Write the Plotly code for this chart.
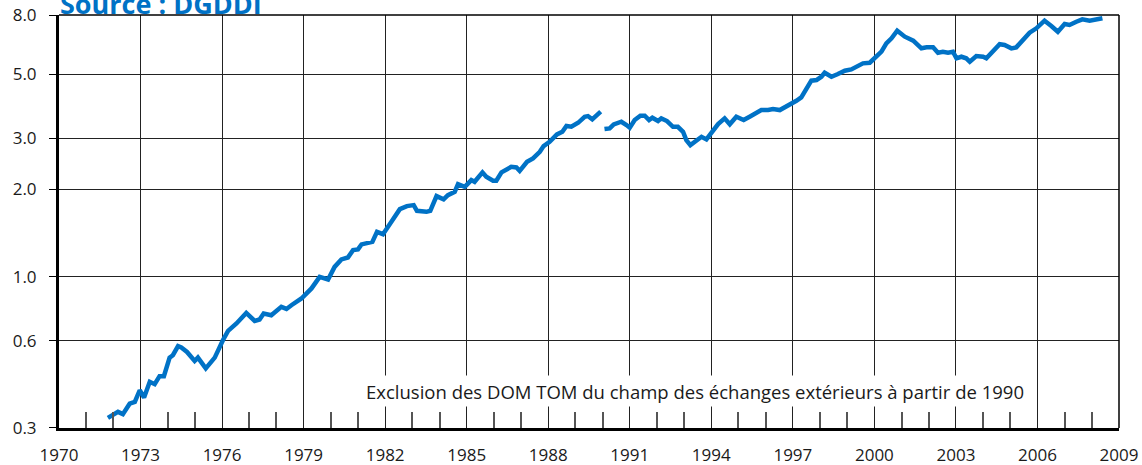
import plotly.graph_objects as go

# Series 1: 1972-1989 (incl. DOM TOM)
years_a = [1971.80, 1972.17, 1972.35, 1972.60, 1972.79, 1972.97, 1973.13, 1973.34, 1973.52, 1973.70,
           1973.86, 1974.07, 1974.19, 1974.38, 1974.50, 1974.71, 1974.99, 1975.11, 1975.40, 1975.73,
           1976.03, 1976.22, 1976.53, 1976.89, 1977.20, 1977.38, 1977.53, 1977.81, 1978.18, 1978.37,
           1978.55, 1978.92, 1979.29, 1979.59, 1979.90, 1980.14, 1980.39, 1980.63, 1980.82, 1981.00,
           1981.13, 1981.41, 1981.53, 1981.70, 1981.92, 1982.23, 1982.54, 1982.80, 1983.05, 1983.17,
           1983.52, 1983.66, 1983.89, 1984.15, 1984.31, 1984.56, 1984.68, 1984.93, 1985.17, 1985.29,
           1985.58, 1985.72, 1985.97, 1986.09, 1986.28, 1986.64, 1986.83, 1986.95, 1987.10, 1987.22,
           1987.44, 1987.69, 1987.83, 1988.05, 1988.32, 1988.52, 1988.67, 1988.85, 1989.10, 1989.34,
           1989.46, 1989.62, 1989.93]
values_a = [0.325, 0.341, 0.335, 0.364, 0.369, 0.405, 0.382, 0.433, 0.425, 0.453,
            0.453, 0.525, 0.535, 0.575, 0.569, 0.549, 0.511, 0.525, 0.482, 0.525,
            0.603, 0.649, 0.689, 0.749, 0.703, 0.711, 0.745, 0.735, 0.786, 0.773,
            0.796, 0.840, 0.910, 0.997, 0.977, 1.080, 1.146, 1.164, 1.234, 1.241,
            1.291, 1.318, 1.318, 1.427, 1.401, 1.545, 1.709, 1.751, 1.765, 1.687,
            1.673, 1.687, 1.896, 1.847, 1.911, 1.961, 2.085, 2.041, 2.153, 2.124,
            2.289, 2.210, 2.141, 2.141, 2.289, 2.393, 2.382, 2.318, 2.425, 2.490,
            2.559, 2.697, 2.822, 2.920, 3.097, 3.162, 3.309, 3.290, 3.396, 3.562,
            3.582, 3.489, 3.713]

# Series 2: 1990-2008 (excl. DOM TOM)
years_b = [1990.07, 1990.26, 1990.41, 1990.69, 1990.88, 1991.00, 1991.18, 1991.39, 1991.55, 1991.71,
           1991.83, 1992.04, 1992.16, 1992.37, 1992.59, 1992.77, 1992.96, 1993.08, 1993.23, 1993.45,
           1993.64, 1993.82, 1994.00, 1994.25, 1994.49, 1994.68, 1994.92, 1995.19, 1995.41, 1995.60,
           1995.84, 1996.09, 1996.27, 1996.52, 1996.76, 1997.01, 1997.13, 1997.31, 1997.50, 1997.68,
           1997.87, 1998.05, 1998.17, 1998.42, 1998.66, 1998.91, 1999.15, 1999.40, 1999.58, 1999.83,
           2000.07, 2000.26, 2000.44, 2000.63, 2000.84, 2001.12, 2001.43, 2001.73, 2001.92, 2002.16,
           2002.34, 2002.52, 2002.71, 2002.89, 2003.02, 2003.20, 2003.38, 2003.51, 2003.75, 2004.00,
           2004.12, 2004.36, 2004.61, 2004.79, 2005.04, 2005.22, 2005.46, 2005.71, 2005.96, 2006.26,
           2006.51, 2006.75, 2007.00, 2007.18, 2007.43, 2007.65, 2007.92, 2008.17, 2008.39]
values_b = [3.230, 3.248, 3.354, 3.424, 3.334, 3.264, 3.470, 3.592, 3.592, 3.470,
            3.534, 3.443, 3.517, 3.443, 3.290, 3.290, 3.162, 2.960, 2.844, 2.960,
            3.038, 2.976, 3.147, 3.361, 3.517, 3.354, 3.562, 3.470, 3.562, 3.631,
            3.757, 3.757, 3.787, 3.757, 3.857, 3.963, 4.046, 4.157, 4.466, 4.745,
            4.771, 4.898, 5.056, 4.898, 5.005, 5.135, 5.192, 5.333, 5.448, 5.474,
            5.715, 5.975, 6.389, 6.648, 7.062, 6.733, 6.522, 6.138, 6.187, 6.187,
            5.927, 5.975, 5.927, 5.975, 5.669, 5.741, 5.669, 5.518, 5.773, 5.741,
            5.669, 6.023, 6.339, 6.303, 6.138, 6.187, 6.522, 6.950, 7.198, 7.645,
            7.332, 7.005, 7.447, 7.389, 7.586, 7.731, 7.645, 7.688, 7.794]

x_ticks = list(range(1970, 2010, 3))
x_minor = [y for y in range(1971, 2009) if (y - 1970) % 3 != 0]
y_ticks = [0.3, 0.6, 1.0, 2.0, 3.0, 5.0, 8.0]
y_ticktext = ["0.3", "0.6", "1.0", "2.0", "3.0", "5.0", "8.0"]
title_text = "Source : DGDDI"
note_text = "Exclusion des DOM TOM du champ des échanges extérieurs à partir de 1990"

FONT = "'Open Sans', Lato, sans-serif"
BLUE = "#0072C6"
TXT = "#1a1a1a"

fig = go.Figure()
fig.add_trace(go.Scatter(
    x=years_a + [None] + years_b,
    y=values_a + [None] + values_b,
    mode="lines",
    line=dict(color=BLUE, width=4.5),
    connectgaps=False,
    hoverinfo="skip",
))

fig.update_layout(
    width=1142, height=465,
    margin=dict(l=59, r=23, t=15, b=37, autoexpand=False),
    paper_bgcolor="white", plot_bgcolor="white",
    showlegend=False,
    font=dict(family=FONT, size=16, color=TXT),
)

fig.update_xaxes(
    range=[1970, 2009], automargin=False,
    tickmode="linear", tick0=1970, dtick=3,
    ticks="inside", ticklen=16, tickcolor="#222222", tickwidth=1.2,
    showgrid=True, gridcolor="#222222", gridwidth=1.2,
    showline=True, linecolor="black", linewidth=3,
    minor=dict(tickmode="array", tickvals=x_minor, ticks="inside", ticklen=16,
               tickcolor="#555555", tickwidth=1.5, showgrid=False),
    tickfont=dict(family=FONT, size=17, color=TXT),
    ticklabelstandoff=10,
    zeroline=False,
)

fig.update_yaxes(
    type="log", automargin=False,
    range=[-0.5229, 0.9031],
    tickmode="array", tickvals=y_ticks, ticktext=y_ticktext,
    ticks="outside", ticklen=7, tickcolor="black", tickwidth=1.2,
    showgrid=True, gridcolor="#222222", gridwidth=1.2,
    showline=True, linecolor="black", linewidth=3,
    tickfont=dict(family=FONT, size=17, color=TXT),
    ticklabelstandoff=9,
    zeroline=False,
)

# thin frame on top and right
fig.add_shape(type="line", xref="paper", yref="paper", x0=0, x1=1, y0=1, y1=1,
              line=dict(color="black", width=1.5))
fig.add_shape(type="line", xref="paper", yref="paper", x0=1, x1=1, y0=0, y1=1,
              line=dict(color="black", width=1.5))

fig.add_annotation(
    text=note_text, xref="paper", yref="paper", x=0.6, y=0.0896,
    xanchor="center", yanchor="middle", showarrow=False,
    width=676, height=28, bgcolor="white",
    font=dict(family=FONT, size=18.5, color=TXT),
)

fig.add_annotation(
    text="<b>" + title_text + "</b>", xref="paper", yref="paper", x=0, y=1,
    xanchor="left", yanchor="bottom", showarrow=False, yshift=-9, xshift=-1,
    font=dict(family=FONT, size=27, color=BLUE),
)

fig.write_html("out.html", config={"displayModeBar": False},
               post_script="document.body.style.margin='0';")
